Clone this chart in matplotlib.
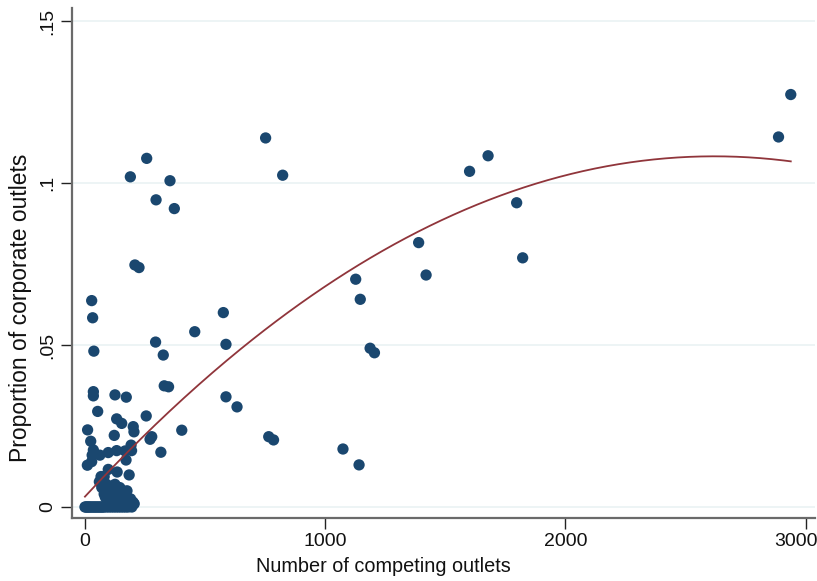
import numpy as np
import matplotlib
matplotlib.use("Agg")
import matplotlib.pyplot as plt
from matplotlib.transforms import ScaledTranslation

# Outlets: number of competing outlets vs. share of corporate outlets
competing = [
    # sparse markets
    2938, 2887, 1601, 1678, 1797, 1822, 1389, 1420,
    752, 823, 257, 189, 354, 296, 372, 208, 225,
    1127, 1146, 1187, 1205, 576, 457, 587, 294, 326,
    330, 348, 587, 633, 403, 765, 785, 1074, 1141,
    # small markets
    28, 32, 37, 35, 35, 125, 172, 53, 255, 132, 153, 11, 201, 204,
    122, 24, 278, 271, 35, 30, 62, 97, 132, 167, 192, 194, 316,
    10, 28, 171, 97, 134, 80, 184, 67, 60, 153, 160, 180,
    # low-share cluster
    70, 80, 90, 95, 100, 105, 110, 115, 120, 125, 130, 135, 140, 145,
    150, 155, 165, 175, 190, 200, 205, 85, 112, 142, 118, 128,
    # zero-share markets
    0, 4, 8, 12, 16, 20, 25, 30, 35, 40, 45, 50, 55, 60, 65, 70, 75,
    80, 90, 100, 110, 120, 130, 140, 150, 160, 170, 180, 195,
]
corporate = [
    0.1273, 0.1142, 0.1036, 0.1084, 0.0939, 0.0769, 0.0816, 0.0716,
    0.1139, 0.1024, 0.1076, 0.1019, 0.1007, 0.0948, 0.0921, 0.0747, 0.0739,
    0.0703, 0.0641, 0.0490, 0.0476, 0.0600, 0.0541, 0.0502, 0.0509, 0.0469,
    0.0374, 0.0371, 0.0340, 0.0309, 0.0237, 0.0217, 0.0207, 0.0179, 0.0130,
    0.0637, 0.0584, 0.0481, 0.0356, 0.0343, 0.0346, 0.0339, 0.0295, 0.0281,
    0.0272, 0.0258, 0.0238, 0.0248, 0.0232,
    0.0221, 0.0203, 0.0217, 0.0209, 0.0176, 0.0160, 0.0160, 0.0168, 0.0174,
    0.0173, 0.0191, 0.0174, 0.0169,
    0.0129, 0.0140, 0.0145, 0.0116, 0.0108, 0.0094, 0.0099, 0.0094, 0.0078,
    0.0052, 0.0027, 0.0017,
    0.0060, 0.0040, 0.0070, 0.0020, 0.0050, 0.0030, 0.0060, 0.0010,
    0.0040, 0.0070, 0.0020, 0.0050, 0.0030, 0.0060,
    0.0010, 0.0040, 0.0020, 0.0050, 0.0025, 0.0015, 0.0010, 0.0030, 0.0035,
    0.0045, 0.0065, 0.0012,
    0, 0, 0, 0, 0, 0, 0, 0, 0, 0, 0, 0, 0, 0, 0, 0, 0,
    0, 0, 0, 0, 0, 0, 0, 0, 0, 0, 0, 0,
]

# quadratic prediction: intercept, linear and squared terms
fit_coefficients = [0.0032, 8.02e-5, -1.531e-8]

x_ticks = [0, 1000, 2000, 3000]
x_tick_labels = ["0", "1000", "2000", "3000"]
y_ticks = [0, 0.05, 0.10, 0.15]
y_tick_labels = ["0", ".05", ".1", ".15"]

marker_color = "#1a476f"
fit_color = "#90353b"
grid_color = "#eaf2f3"
axis_color = "#6a6a6a"
text_color = "#111111"

plt.rcParams["font.family"] = ["Liberation Sans", "DejaVu Sans"]

x = np.asarray(competing, dtype=float)
y = np.asarray(corporate, dtype=float)

fig = plt.figure(figsize=(8.17, 5.81), dpi=100)
ax = fig.add_axes([0.0881, 0.1084, 0.9095, 0.8778])

# horizontal grid
for t in y_ticks:
    ax.axhline(t, color=grid_color, lw=1.2, zorder=0)

ax.scatter(x, y, s=66, color=marker_color, edgecolors="none", zorder=2)

# fitted quadratic over the observed range
b0, b1, b2 = fit_coefficients
xs = np.linspace(x.min(), x.max(), 300)
ax.plot(xs, b0 + b1 * xs + b2 * xs ** 2, color=fit_color, lw=1.3, zorder=3)

ax.set_xlim(-54, 3039)
ax.set_ylim(-0.0034, 0.154)

ax.set_xticks(x_ticks)
ax.set_xticklabels(x_tick_labels)
ax.set_yticks(y_ticks)
ax.set_yticklabels(y_tick_labels, rotation=90, va="center")

for side in ("top", "right"):
    ax.spines[side].set_visible(False)
for side in ("left", "bottom"):
    ax.spines[side].set_color(axis_color)
    ax.spines[side].set_linewidth(1.6)

ax.tick_params(axis="both", length=8, width=1.0, color="#222222",
               labelsize=14, labelcolor=text_color, pad=3)

# keep the last x label inside the figure
last = ax.get_xticklabels()[-1]
last.set_transform(last.get_transform() + ScaledTranslation(-10 / 100, 0, fig.dpi_scale_trans))

fig.text(256 / 817, (581 - 566) / 581, "Number of competing outlets",
         ha="left", va="center", fontsize=14.3, color=text_color)
fig.text(21 / 817, (581 - 462) / 581, "Proportion of corporate outlets",
         ha="center", va="bottom", rotation=90, fontsize=16.5, color=text_color)

fig.savefig("out.png", dpi=100, facecolor="white")
